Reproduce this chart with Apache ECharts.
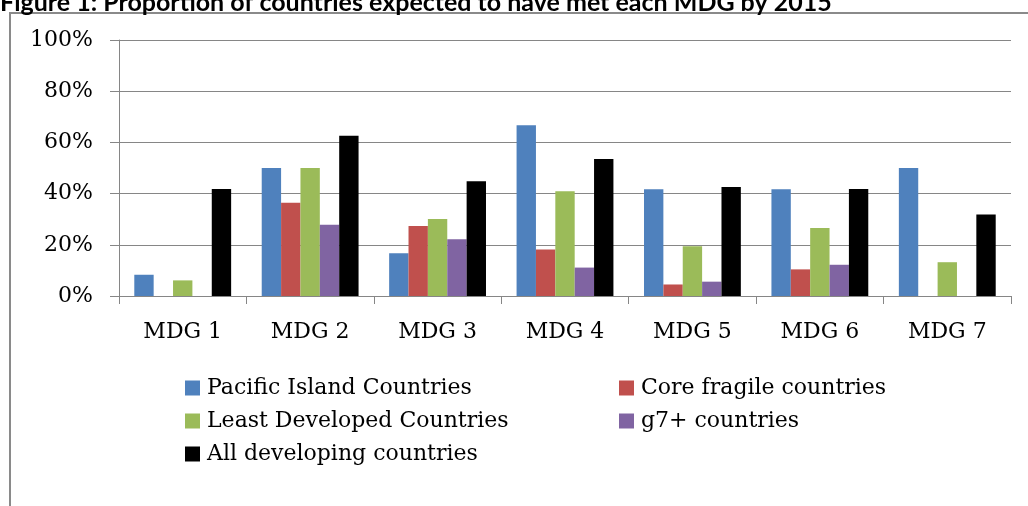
<!DOCTYPE html>
<html>
<head>
<meta charset="utf-8">
<script src="https://cdn.jsdelivr.net/npm/echarts@6/dist/echarts.min.js"></script>
<style>
html,body{margin:0;padding:0;background:#fff;}
#chart{width:1028px;height:506px;}
</style>
</head>
<body>
<div id="chart"></div>
<script>
var titleText = 'Figure 1: Proportion of countries expected to have met each MDG by 2015';
var categories = ['MDG 1', 'MDG 2', 'MDG 3', 'MDG 4', 'MDG 5', 'MDG 6', 'MDG 7'];
var yTicks = [0, 20, 40, 60, 80, 100];
var seriesNames = ['Pacific Island Countries', 'Core fragile countries', 'Least Developed Countries', 'g7+ countries', 'All developing countries'];
var pacific = [8.3, 50, 16.7, 66.7, 41.7, 41.7, 50];
var coreFragile = [0, 36.4, 27.3, 18.2, 4.5, 10.4, 0];
var leastDeveloped = [6.1, 50, 30.1, 40.9, 19.4, 26.6, 13.2];
var g7plus = [0, 27.8, 22.2, 11.1, 5.6, 12.2, 0];
var allDeveloping = [41.8, 62.6, 44.8, 53.5, 42.6, 41.8, 31.8];

var colors = ['#4F81BD', '#C0504D', '#9BBB59', '#8064A2', '#000000'];
var values = [pacific, coreFragile, leastDeveloped, g7plus, allDeveloping];
var serif = '"DejaVu Serif", "Liberation Serif", serif';

var chart = echarts.init(document.getElementById('chart'), null, {renderer: 'canvas'});
var series = seriesNames.map(function (n, i) {
  return {
    name: n,
    type: 'bar',
    data: values[i],
    barGap: '0%',
    barCategoryGap: '24%',
    itemStyle: {color: colors[i]},
    emphasis: {disabled: true},
    animation: false
  };
});

var legendText = {fontFamily: serif, fontSize: 22, color: '#000', lineHeight: 26, padding: [0, 0, 0, 2]};

chart.setOption({
  animation: false,
  color: colors,
  graphic: [
    {type: 'rect', shape: {x: 10, y: 13, width: 1200, height: 800}, style: {fill: 'none', stroke: '#8a8a8a', lineWidth: 2}, silent: true},
    {type: 'text', x: 0, y: 3, style: {text: titleText, font: 'bold 25px Lato, "Open Sans", sans-serif', fill: '#000', textVerticalAlign: 'middle'}, silent: true}
  ],
  grid: {left: 119, right: 17, top: 40, bottom: 210, containLabel: false},
  legend: [
    {
      data: [seriesNames[0], seriesNames[2], seriesNames[4]],
      orient: 'vertical', left: 180, top: 370,
      itemWidth: 15, itemHeight: 15, itemGap: 7, icon: 'rect',
      textStyle: legendText, selectedMode: false
    },
    {
      data: [seriesNames[1], seriesNames[3]],
      orient: 'vertical', left: 614, top: 370,
      itemWidth: 15, itemHeight: 15, itemGap: 7, icon: 'rect',
      textStyle: legendText, selectedMode: false
    }
  ],
  xAxis: {
    type: 'category',
    data: categories,
    axisLine: {lineStyle: {color: '#868686', width: 1}},
    axisTick: {show: true, length: 8, lineStyle: {color: '#868686'}},
    axisLabel: {fontFamily: serif, fontSize: 22, color: '#000', margin: 25}
  },
  yAxis: {
    type: 'value',
    min: 0, max: 100, interval: 20,
    axisLine: {show: true, lineStyle: {color: '#868686', width: 1}},
    axisTick: {show: true, length: 9, lineStyle: {color: '#868686'}},
    splitLine: {show: true, lineStyle: {color: '#868686', width: 1}},
    axisLabel: {fontFamily: serif, fontSize: 22, color: '#000', margin: 26,
      formatter: function (v) { return yTicks.indexOf(v) >= 0 ? v + '%' : ''; }}
  },
  series: series
});
</script>
</body>
</html>
